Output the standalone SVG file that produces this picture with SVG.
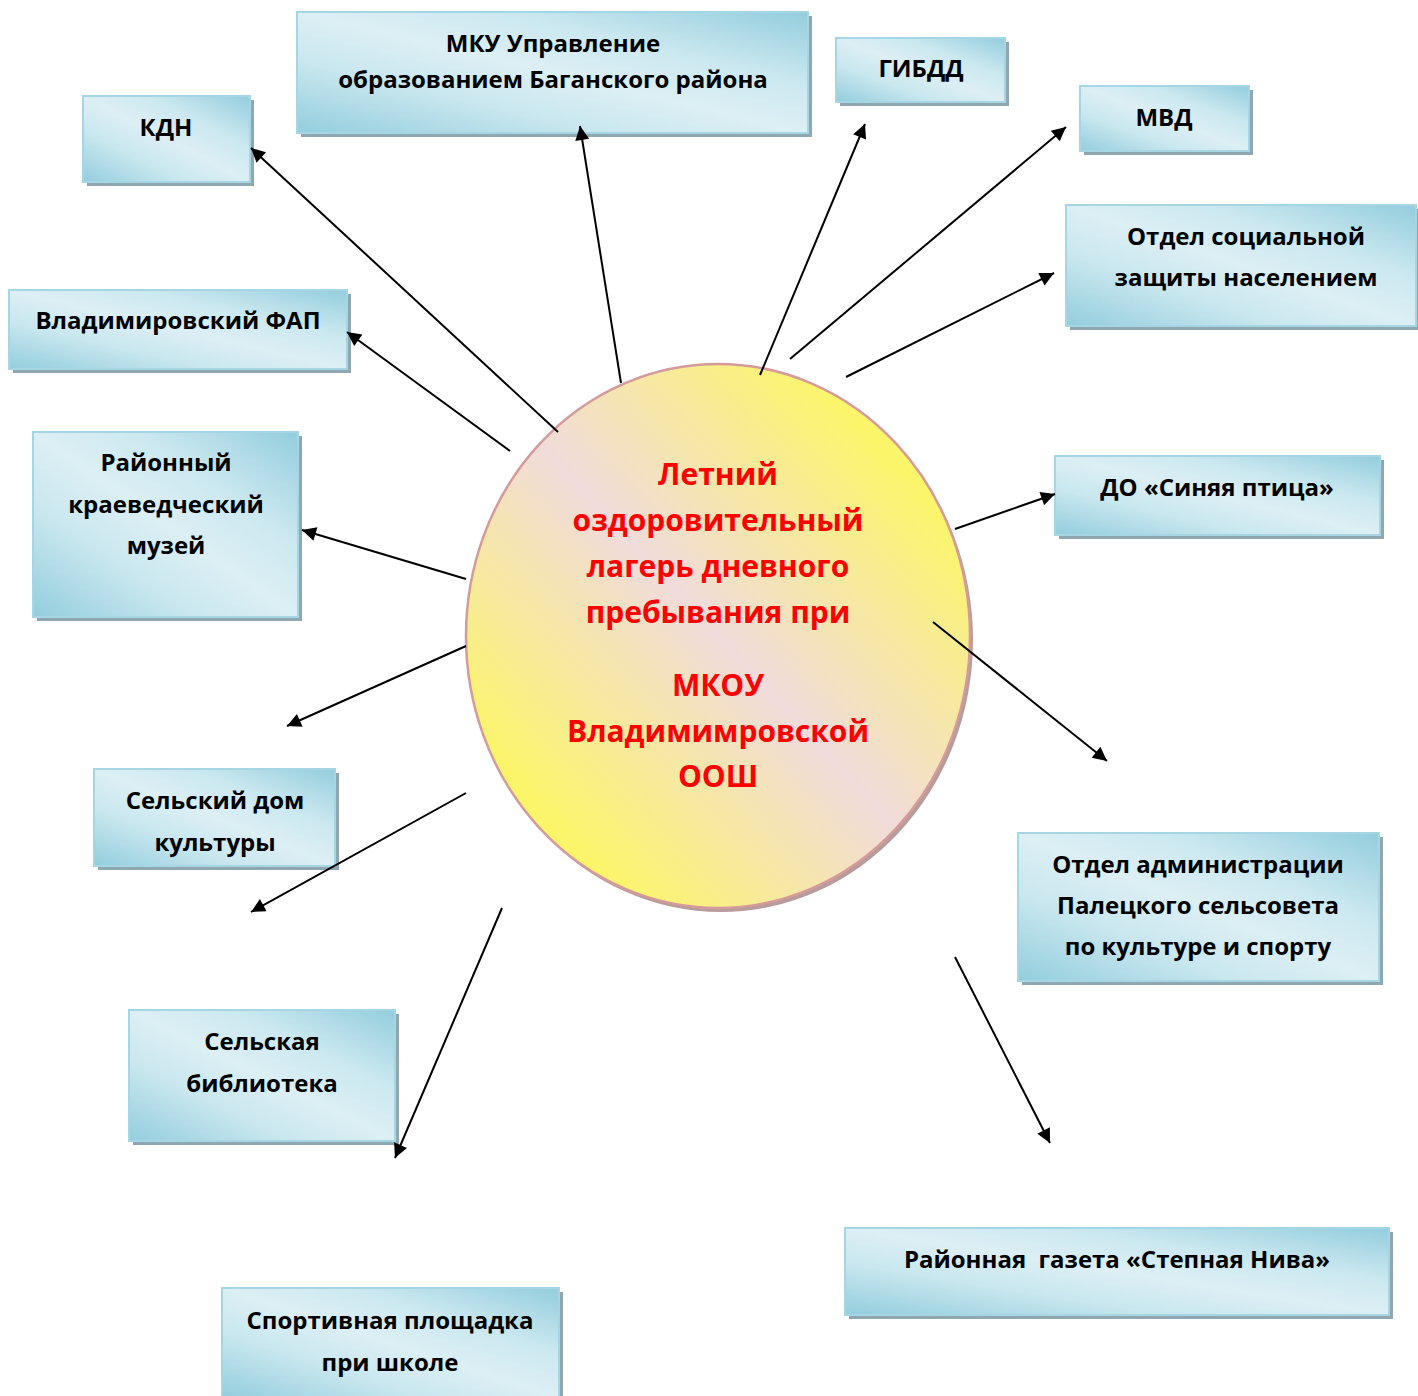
<svg xmlns="http://www.w3.org/2000/svg" width="1418" height="1396" viewBox="0 0 1418 1396">
<style>
.box{fill:url(#boxGrad);stroke:#A6D6E4;stroke-width:2}
.shadow{fill:#8EA7B1}
.t{font-family:"Open Sans","Liberation Sans",sans-serif;font-weight:700;font-size:24px;fill:#000;text-anchor:middle}
.c{font-family:"Open Sans","Liberation Sans",sans-serif;font-weight:700;font-size:30px;fill:#FF0000;text-anchor:middle}
.conn line{stroke:#000;stroke-width:2;marker-end:url(#arrow)}
</style>
<defs>
<linearGradient id="boxGrad" x1="0" y1="1" x2="1" y2="0">
<stop offset="0" stop-color="#93CDDD"/>
<stop offset="0.3" stop-color="#C9E7EF"/>
<stop offset="0.5" stop-color="#DCEFF4"/>
<stop offset="0.7" stop-color="#CBE8F0"/>
<stop offset="1" stop-color="#93CDDD"/>
</linearGradient>
<linearGradient id="circGrad" x1="0" y1="1" x2="1" y2="0">
<stop offset="0" stop-color="#FFF850"/>
<stop offset="0.17" stop-color="#FBF56C"/>
<stop offset="0.5" stop-color="#F1DBDB"/>
<stop offset="0.83" stop-color="#FBF56C"/>
<stop offset="1" stop-color="#FFF850"/>
</linearGradient>
<marker id="arrow" viewBox="0 0 10 10" refX="10" refY="5" markerWidth="18" markerHeight="14" markerUnits="userSpaceOnUse" orient="auto">
<path d="M0,0 L10,5 L0,10 z" fill="#000"/>
</marker>
</defs>
<rect width="1418" height="1396" fill="#fff"/>

<g id="center">
<ellipse cx="721" cy="640" rx="252" ry="272" fill="#B79C9C"/>
<ellipse cx="718" cy="636" rx="252" ry="272" fill="url(#circGrad)" stroke="#D59B9B" stroke-width="2.5"/>
<text class="c" x="718" y="485">Летний</text>
<text class="c" x="718" y="531">оздоровительный</text>
<text class="c" x="718" y="577">лагерь дневного</text>
<text class="c" x="718" y="623">пребывания при</text>
<text class="c" x="718" y="696">МКОУ</text>
<text class="c" x="718" y="742">Владимимровской</text>
<text class="c" x="718" y="787">ООШ</text>
</g>

<g id="kdn">
<rect class="shadow" x="87" y="100" width="167" height="86"/>
<rect class="box" x="83" y="96" width="167" height="86"/>
<text class="t" x="166" y="136">КДН</text>
</g>

<g id="mku">
<rect class="shadow" x="301" y="16" width="511" height="121"/>
<rect class="box" x="297" y="12" width="511" height="121"/>
<text class="t" x="553" y="52">МКУ Управление</text>
<text class="t" x="553" y="88">образованием Баганского района</text>
</g>

<g id="gibdd">
<rect class="shadow" x="840" y="42" width="169" height="64"/>
<rect class="box" x="836" y="38" width="169" height="64"/>
<text class="t" x="921" y="77">ГИБДД</text>
</g>

<g id="mvd">
<rect class="shadow" x="1084" y="90" width="169" height="65"/>
<rect class="box" x="1080" y="86" width="169" height="65"/>
<text class="t" x="1164" y="126">МВД</text>
</g>

<g id="social">
<rect class="shadow" x="1070" y="209" width="350" height="121"/>
<rect class="box" x="1066" y="205" width="350" height="121"/>
<text class="t" x="1246" y="245">Отдел социальной</text>
<text class="t" x="1246" y="286">защиты населением</text>
</g>

<g id="fap">
<rect class="shadow" x="13" y="294" width="338" height="79"/>
<rect class="box" x="9" y="290" width="338" height="79"/>
<text class="t" x="178" y="329">Владимировский ФАП</text>
</g>

<g id="museum">
<rect class="shadow" x="37" y="436" width="265" height="185"/>
<rect class="box" x="33" y="432" width="265" height="185"/>
<text class="t" x="166" y="471">Районный</text>
<text class="t" x="166" y="513">краеведческий</text>
<text class="t" x="166" y="554">музей</text>
</g>

<g id="sinyaya">
<rect class="shadow" x="1059" y="460" width="325" height="79"/>
<rect class="box" x="1055" y="456" width="325" height="79"/>
<text class="t" x="1217" y="496">ДО «Синяя птица»</text>
</g>

<g id="dk">
<rect class="shadow" x="98" y="773" width="241" height="97"/>
<rect class="box" x="94" y="769" width="241" height="97"/>
<text class="t" x="215" y="809">Сельский дом</text>
<text class="t" x="215" y="851">культуры</text>
</g>

<g id="admin">
<rect class="shadow" x="1022" y="837" width="361" height="148"/>
<rect class="box" x="1018" y="833" width="361" height="148"/>
<text class="t" x="1198" y="873">Отдел администрации</text>
<text class="t" x="1198" y="914">Палецкого сельсовета</text>
<text class="t" x="1198" y="955">по культуре и спорту</text>
</g>

<g id="library">
<rect class="shadow" x="133" y="1014" width="266" height="131"/>
<rect class="box" x="129" y="1010" width="266" height="131"/>
<text class="t" x="262" y="1050">Сельская</text>
<text class="t" x="262" y="1092">библиотека</text>
</g>

<g id="gazeta">
<rect class="shadow" x="849" y="1232" width="544" height="87"/>
<rect class="box" x="845" y="1228" width="544" height="87"/>
<text class="t" x="1117" y="1268" xml:space="preserve" style="white-space:pre">Районная  газета «Степная Нива»</text>
</g>

<g id="sport">
<rect class="shadow" x="226" y="1292" width="337" height="110"/>
<rect class="box" x="222" y="1288" width="337" height="110"/>
<text class="t" x="390" y="1329">Спортивная площадка</text>
<text class="t" x="390" y="1371">при школе</text>
</g>

<g id="connectors" class="conn">
<line x1="558" y1="432" x2="251" y2="148"/>
<line x1="621" y1="383" x2="580" y2="126"/>
<line x1="760" y1="375" x2="865" y2="124"/>
<line x1="790" y1="359" x2="1066" y2="127"/>
<line x1="846" y1="377" x2="1054" y2="273"/>
<line x1="510" y1="451" x2="347" y2="332"/>
<line x1="466" y1="579" x2="302" y2="530"/>
<line x1="955" y1="529" x2="1055" y2="494"/>
<line x1="466" y1="646" x2="287" y2="726"/>
<line x1="933" y1="622" x2="1107" y2="761"/>
<line x1="466" y1="793" x2="251" y2="912"/>
<line x1="502" y1="908" x2="395" y2="1158"/>
<line x1="955" y1="957" x2="1050" y2="1143"/>
</g>
</svg>
